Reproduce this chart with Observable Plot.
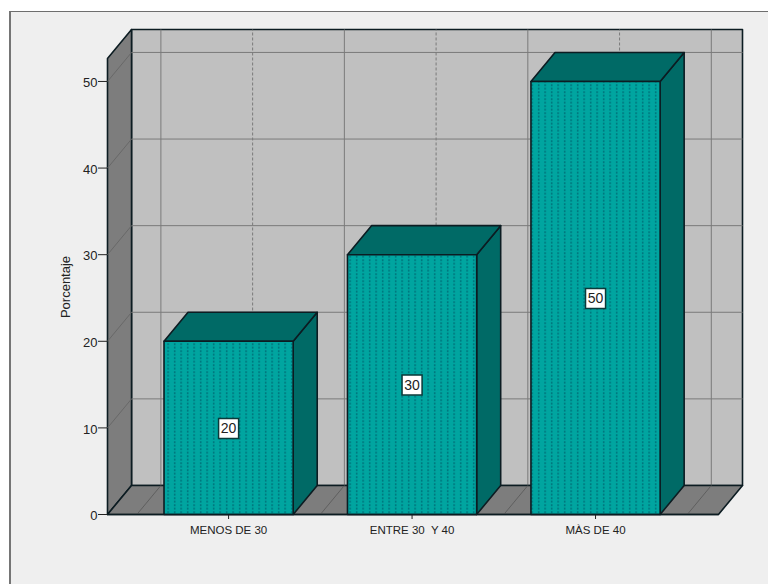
<!DOCTYPE html>
<html>
<head>
<meta charset="utf-8">
<script src="https://cdn.jsdelivr.net/npm/d3@7"></script>
<script src="https://cdn.jsdelivr.net/npm/@observablehq/plot@0.6"></script>
<style>
  html, body { margin: 0; padding: 0; background: #ffffff; overflow: hidden; }
  #panel { position: absolute; left: 9px; top: 11px; right: 0; bottom: 0; background: #efefef;
           border-left: 2px solid #757575; border-top: 1px solid #6e6e6e; }
  #chart { position: absolute; left: 0; top: 0; }
  #chart svg { background: none; display: block; }
</style>
</head>
<body>
<div id="panel"></div>
<div id="chart"></div>
<script>
// Age groups and their share of respondents
const categories = ["MENOS DE 30", "ENTRE 30  Y 40", "MÀS DE 40"];
const values = [20, 30, 50];
const yTicks = [0, 10, 20, 30, 40, 50];

// Box extents, in scale units: categories sit at 0, 1, 2
const xLeft = -0.66;
const xRight = 2.67;
const yTop = 52.65;
const barHalf = 0.352;
const depthX = 0.131;
const depthY = 3.35;
const solidWallLines = [-0.5, 0.5, 1.5, 2.5];
const dashedWallLines = [0, 1, 2];

const wallColor = "#c0c0c0";
const sideColor = "#7d7d7d";
const gridColor = "#7a7a7a";
const frontColor = "#00a5a0";
const shadeColor = "#006a66";
const edge = "#0c1c22";

// Draws one closed face of the box from its corner points
const face = (points, fill, stroke = edge, strokeWidth = 1.6) =>
  Plot.line(points.map(([x, y]) => ({x, y})), {
    x: "x", y: "y", fill, stroke, strokeWidth,
    curve: "linear-closed", strokeLinejoin: "round"
  });

// Straight segment between two points in scale units
const seg = (x1, y1, x2, y2, opts) => Plot.link([{x1, y1, x2, y2}], {
  x1: "x1", y1: "y1", x2: "x2", y2: "y2", ...opts
});

// Dotted fill used on the front of the bars
const dotPattern = () => {
  const ns = "http://www.w3.org/2000/svg";
  const svg = document.createElementNS(ns, "svg");
  const pattern = document.createElementNS(ns, "pattern");
  pattern.setAttribute("id", "dots");
  pattern.setAttribute("patternUnits", "userSpaceOnUse");
  pattern.setAttribute("width", 6.5);
  pattern.setAttribute("height", 7);
  pattern.setAttribute("x", 165);
  pattern.setAttribute("y", 342);
  const bg = document.createElementNS(ns, "rect");
  bg.setAttribute("width", 6.5);
  bg.setAttribute("height", 7);
  bg.setAttribute("fill", frontColor);
  pattern.appendChild(bg);
  [[2, 1], [2, 4.5]].forEach(([x, y]) => {
    const d = document.createElementNS(ns, "rect");
    d.setAttribute("x", x);
    d.setAttribute("y", y);
    d.setAttribute("width", 1.3);
    d.setAttribute("height", 1.3);
    d.setAttribute("fill", "#004f60");
    pattern.appendChild(d);
  });
  const defs = document.createElementNS(ns, "defs");
  defs.appendChild(pattern);
  svg.appendChild(defs);
  return svg;
};

const bars = values.flatMap((v, i) => {
  const a = i - barHalf, b = i + barHalf;
  return [
    face([[b, 0], [b + depthX, depthY], [b + depthX, v + depthY], [b, v]], shadeColor),
    face([[a, v], [a + depthX, v + depthY], [b + depthX, v + depthY], [b, v]], shadeColor),
    face([[a, 0], [a, v], [b, v], [b, 0]], "url(#dots)")
  ];
});

const plot = Plot.plot({
  width: 768,
  height: 584,
  marginLeft: 107,
  marginRight: 26,
  marginTop: 29,
  marginBottom: 70,
  style: {fontFamily: "'Liberation Sans', Arial, sans-serif", color: "#222"},
  x: {domain: [xLeft, xRight + depthX], range: [107, 742]},
  y: {domain: [0, yTop + depthY], range: [514, 29]},
  marks: [
    dotPattern,
    // Back wall, left wall and floor
    face([[xLeft + depthX, depthY], [xLeft + depthX, yTop + depthY], [xRight + depthX, yTop + depthY], [xRight + depthX, depthY]], wallColor),
    face([[xLeft, 0], [xLeft, yTop], [xLeft + depthX, yTop + depthY], [xLeft + depthX, depthY]], sideColor),
    // Gridlines on the walls and floor
    ...yTicks.slice(1).flatMap(t => [
      seg(xLeft + depthX, t + depthY, xRight + depthX, t + depthY, {stroke: gridColor, strokeWidth: 1}),
      seg(xLeft, t, xLeft + depthX, t + depthY, {stroke: "#686868", strokeWidth: 1})
    ]),
    ...solidWallLines.map(x => seg(x + depthX, depthY, x + depthX, yTop + depthY, {stroke: gridColor, strokeWidth: 1})),
    ...dashedWallLines.map(x => seg(x + depthX, depthY, x + depthX, yTop + depthY, {stroke: gridColor, strokeWidth: 1, strokeDasharray: "3,2"})),
    face([[xLeft, 0], [xLeft + depthX, depthY], [xRight + depthX, depthY], [xRight, 0]], sideColor),
    ...solidWallLines.map(x => seg(x, 0, x + depthX, depthY, {stroke: "#5f5f5f", strokeWidth: 1})),
    ...dashedWallLines.map(x => seg(x, 0, x + depthX, depthY, {stroke: "#5f5f5f", strokeWidth: 1, strokeDasharray: "3,2"})),
    // Bars
    ...bars,
    // Value labels, centred on each bar
    Plot.dot(values, {
      x: (d, i) => i, y: d => d / 2, dy: 0.5, symbol: "square", r: 11.3,
      fill: "#fff", stroke: "#0b3a3a", strokeWidth: 1.5
    }),
    Plot.text(values, {
      x: (d, i) => i, y: d => d / 2, dy: 0.5, text: d => String(d),
      fontSize: 14, fill: "#222"
    }),
    // Axes: tick marks and their labels, which sit slightly below each tick
    Plot.axisY({
      ticks: yTicks, tickSize: 9, text: null,
      anchor: "left", x: xLeft, label: null, stroke: "#222"
    }),
    Plot.axisY({
      ticks: yTicks, tickSize: 0, tickPadding: 10, tickFormat: d => String(d), dy: 1.5,
      anchor: "left", x: xLeft, fontSize: 13, label: null, fill: "#222"
    }),
    Plot.text(["Porcentaje"], {
      frameAnchor: "left", dx: -42, dy: 15, rotate: -90, fontSize: 13, fill: "#222", textAnchor: "middle"
    }),
    Plot.axisX({
      ticks: [0, 1, 2], tickSize: 5, tickPadding: 6, tickFormat: i => categories[i],
      anchor: "bottom", y: 0, fontSize: 11.5, label: null, stroke: "#222", fill: "#222"
    }),
    seg(xLeft, 0, xRight, 0, {stroke: edge, strokeWidth: 1.6})
  ]
});

document.getElementById("chart").appendChild(plot);
</script>
</body>
</html>
